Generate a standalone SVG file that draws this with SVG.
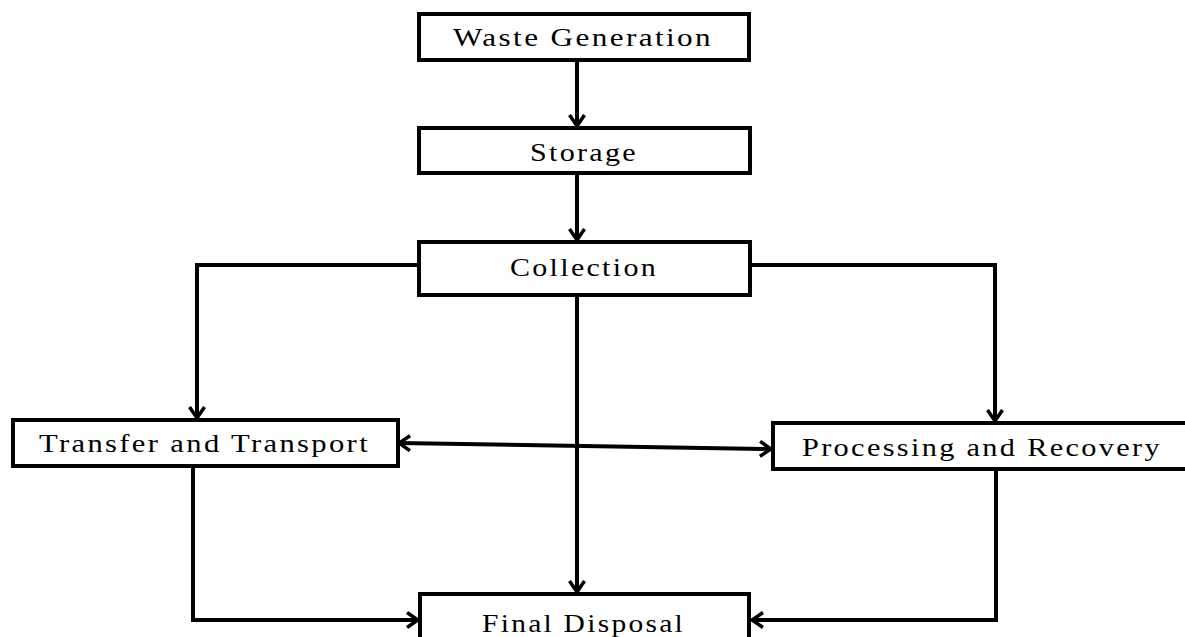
<svg xmlns="http://www.w3.org/2000/svg" width="1185" height="637" viewBox="0 0 1185 637">
<defs>
<style>
.box{fill:#fff;stroke:#000;stroke-width:4}
.lbl{font-family:"Liberation Serif","Times New Roman",serif;font-size:26px;fill:#000;letter-spacing:2px}
.ln{fill:none;stroke:#000;stroke-width:4}
</style>
<marker id="ah" markerWidth="18" markerHeight="18" viewBox="0 0 18 18" refX="15" refY="9" orient="auto" markerUnits="userSpaceOnUse">
<path d="M4,1.5 L15,9 L4,16.5" fill="none" stroke="#000" stroke-width="3.5"/>
</marker>
<marker id="ahs" markerWidth="18" markerHeight="18" viewBox="0 0 18 18" refX="3" refY="9" orient="auto" markerUnits="userSpaceOnUse">
<path d="M14,1.5 L3,9 L14,16.5" fill="none" stroke="#000" stroke-width="3.5"/>
</marker>
</defs>
<rect width="1185" height="637" fill="#fff"/>
<g id="connectors">
<line class="ln" x1="577" y1="60" x2="577" y2="126" marker-end="url(#ah)"/>
<line class="ln" x1="577" y1="173" x2="577" y2="240" marker-end="url(#ah)"/>
<polyline class="ln" points="419,265 197,265 197,418" marker-end="url(#ah)"/>
<polyline class="ln" points="750,265 995,265 995,421" marker-end="url(#ah)"/>
<line class="ln" x1="577" y1="295" x2="577" y2="592" marker-end="url(#ah)"/>
<line class="ln" x1="399" y1="443" x2="771" y2="449" marker-start="url(#ahs)" marker-end="url(#ah)"/>
<polyline class="ln" points="193,466 193,620 418,620" marker-end="url(#ah)"/>
<polyline class="ln" points="996,469 996,620 752,620" marker-end="url(#ah)"/>
</g>
<g id="waste-generation">
<rect class="box" x="419" y="14" width="330" height="46"/>
<text class="lbl" x="453" y="46" textLength="260" lengthAdjust="spacingAndGlyphs">Waste Generation</text>
</g>
<g id="storage">
<rect class="box" x="419" y="128" width="331" height="45"/>
<text class="lbl" x="530" y="161" textLength="108" lengthAdjust="spacingAndGlyphs">Storage</text>
</g>
<g id="collection">
<rect class="box" x="419" y="242" width="331" height="53"/>
<text class="lbl" x="510" y="276" textLength="148" lengthAdjust="spacingAndGlyphs">Collection</text>
</g>
<g id="transfer-transport">
<rect class="box" x="13" y="420" width="385" height="46"/>
<text class="lbl" x="39" y="452" textLength="331" lengthAdjust="spacingAndGlyphs">Transfer and Transport</text>
</g>
<g id="processing-recovery">
<rect class="box" x="773" y="423" width="420" height="46"/>
<text class="lbl" x="802" y="456" textLength="360" lengthAdjust="spacingAndGlyphs">Processing and Recovery</text>
</g>
<g id="final-disposal">
<rect class="box" x="420" y="594" width="329" height="60"/>
<text class="lbl" x="482" y="632" textLength="203" lengthAdjust="spacingAndGlyphs">Final Disposal</text>
</g>
</svg>
